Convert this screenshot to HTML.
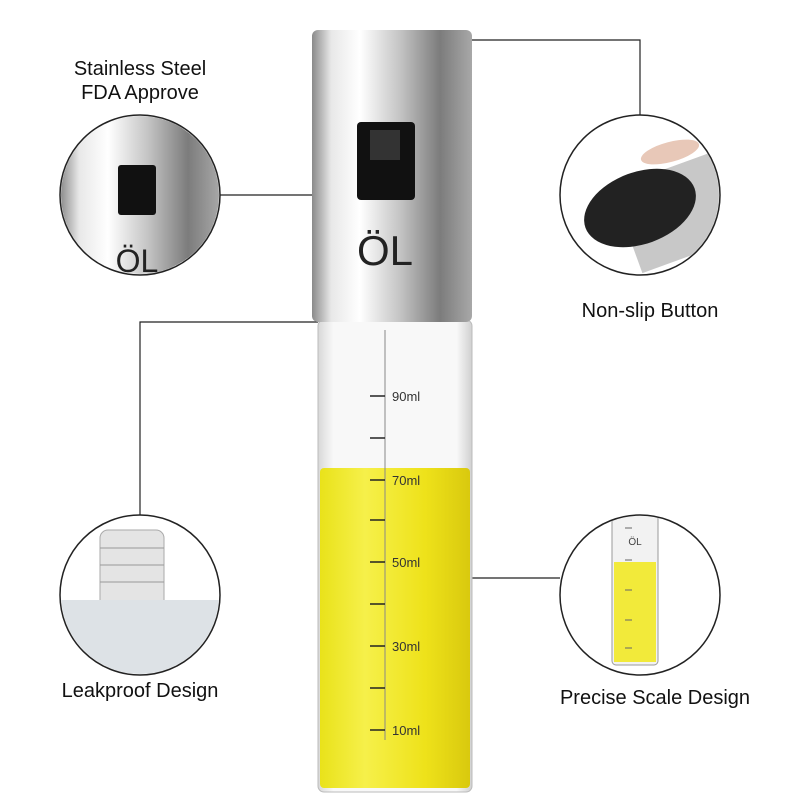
<!DOCTYPE html>
<html><head><style>
body{margin:0;background:#fff;}
svg{display:block}
text{font-family:"Liberation Sans",sans-serif;}
</style></head><body>
<svg width="800" height="800" viewBox="0 0 800 800">
<defs>
<linearGradient id="steel" x1="0" x2="1" y1="0" y2="0">
<stop offset="0" stop-color="#8a8a8a"/><stop offset="0.12" stop-color="#e8e8e8"/><stop offset="0.3" stop-color="#ffffff"/><stop offset="0.55" stop-color="#c4c4c4"/><stop offset="0.8" stop-color="#7c7c7c"/><stop offset="1" stop-color="#a8a8a8"/>
</linearGradient>
<linearGradient id="oil" x1="0" x2="1">
<stop offset="0" stop-color="#e9e21a"/><stop offset="0.3" stop-color="#f6f04a"/><stop offset="0.7" stop-color="#eee21a"/><stop offset="1" stop-color="#d9c90e"/>
</linearGradient>
<linearGradient id="glass" x1="0" x2="1">
<stop offset="0" stop-color="#d8d8d8"/><stop offset="0.1" stop-color="#f8f8f8"/><stop offset="0.9" stop-color="#f8f8f8"/><stop offset="1" stop-color="#d0d0d0"/>
</linearGradient>
<clipPath id="c1"><circle cx="140" cy="195" r="79"/></clipPath>
<clipPath id="c2"><circle cx="640" cy="195" r="79"/></clipPath>
<clipPath id="c3"><circle cx="140" cy="595" r="79"/></clipPath>
<clipPath id="c4"><circle cx="640" cy="595" r="79"/></clipPath>
</defs>
<g stroke="#222" stroke-width="1.2" fill="none">
<polyline points="220,195 312,195"/>
<polyline points="403,55 403,40 640,40 640,115"/>
<polyline points="140,515 140,322 318,322"/>
<polyline points="472,578 560,578"/>
</g>
<rect x="318" y="320" width="154" height="472" rx="6" fill="url(#glass)" stroke="#bbb"/>
<rect x="320" y="468" width="150" height="320" rx="4" fill="url(#oil)"/>
<rect x="312" y="30" width="160" height="292" rx="6" fill="url(#steel)"/>
<rect x="357" y="122" width="58" height="78" rx="4" fill="#111"/>
<rect x="370" y="130" width="30" height="30" fill="#333"/>
<text x="385" y="265" font-size="42" text-anchor="middle" fill="#222">ÖL</text>
<line x1="385" y1="330" x2="385" y2="740" stroke="#888" stroke-width="1"/>
<g stroke="#222" stroke-width="1.5">
<line x1="370" y1="396" x2="385" y2="396"/><line x1="370" y1="438" x2="385" y2="438"/>
<line x1="370" y1="480" x2="385" y2="480"/><line x1="370" y1="520" x2="385" y2="520"/>
<line x1="370" y1="562" x2="385" y2="562"/><line x1="370" y1="604" x2="385" y2="604"/>
<line x1="370" y1="646" x2="385" y2="646"/><line x1="370" y1="688" x2="385" y2="688"/>
<line x1="370" y1="730" x2="385" y2="730"/>
</g>
<g font-size="13" fill="#333">
<text x="392" y="401">90ml</text><text x="392" y="485">70ml</text><text x="392" y="567">50ml</text><text x="392" y="651">30ml</text><text x="392" y="735">10ml</text>
</g>
<circle cx="140" cy="195" r="80" fill="#fff"/>
<circle cx="640" cy="195" r="80" fill="#fff"/>
<circle cx="140" cy="595" r="80" fill="#fff"/>
<circle cx="640" cy="595" r="80" fill="#fff"/>
<g clip-path="url(#c1)">
<rect x="60" y="110" width="160" height="170" fill="url(#steel)"/>
<rect x="118" y="165" width="38" height="50" rx="3" fill="#111"/>
<text x="137" y="272" font-size="32" text-anchor="middle" fill="#222">ÖL</text>
</g>
<g clip-path="url(#c2)">
<rect x="620" y="180" width="120" height="90" fill="#c8c8c8" transform="rotate(-20 640 208)"/>
<ellipse cx="640" cy="208" rx="58" ry="36" fill="#222" transform="rotate(-20 640 208)"/>
<ellipse cx="670" cy="152" rx="30" ry="10" fill="#e8c8b8" transform="rotate(-15 670 152)"/>
</g>
<g clip-path="url(#c3)">
<rect x="100" y="530" width="64" height="100" rx="8" fill="#e4e4e4" stroke="#aaa"/>
<rect x="60" y="600" width="160" height="80" fill="#dde2e6"/>
<g stroke="#999"><line x1="100" y1="548" x2="164" y2="548"/><line x1="100" y1="565" x2="164" y2="565"/><line x1="100" y1="582" x2="164" y2="582"/></g>
</g>
<g clip-path="url(#c4)">
<rect x="612" y="505" width="46" height="160" rx="4" fill="#f2f2f2" stroke="#999"/>
<rect x="614" y="562" width="42" height="100" fill="#f2ea3a"/>
<text x="635" y="545" font-size="10" text-anchor="middle" fill="#444">ÖL</text>
<g stroke="#666"><line x1="625" y1="528" x2="632" y2="528"/><line x1="625" y1="560" x2="632" y2="560"/><line x1="625" y1="590" x2="632" y2="590"/><line x1="625" y1="620" x2="632" y2="620"/><line x1="625" y1="648" x2="632" y2="648"/></g>
</g>
<g stroke="#222" stroke-width="1.5" fill="none">
<circle cx="140" cy="195" r="80"/><circle cx="640" cy="195" r="80"/>
<circle cx="140" cy="595" r="80"/><circle cx="640" cy="595" r="80"/>
</g>
<g font-size="20" fill="#111" text-anchor="middle">
<text x="140" y="75">Stainless Steel</text>
<text x="140" y="99">FDA Approve</text>
<text x="650" y="317">Non-slip Button</text>
<text x="140" y="697">Leakproof Design</text>
<text x="655" y="704">Precise Scale Design</text>
</g>
</svg>
</body></html>
